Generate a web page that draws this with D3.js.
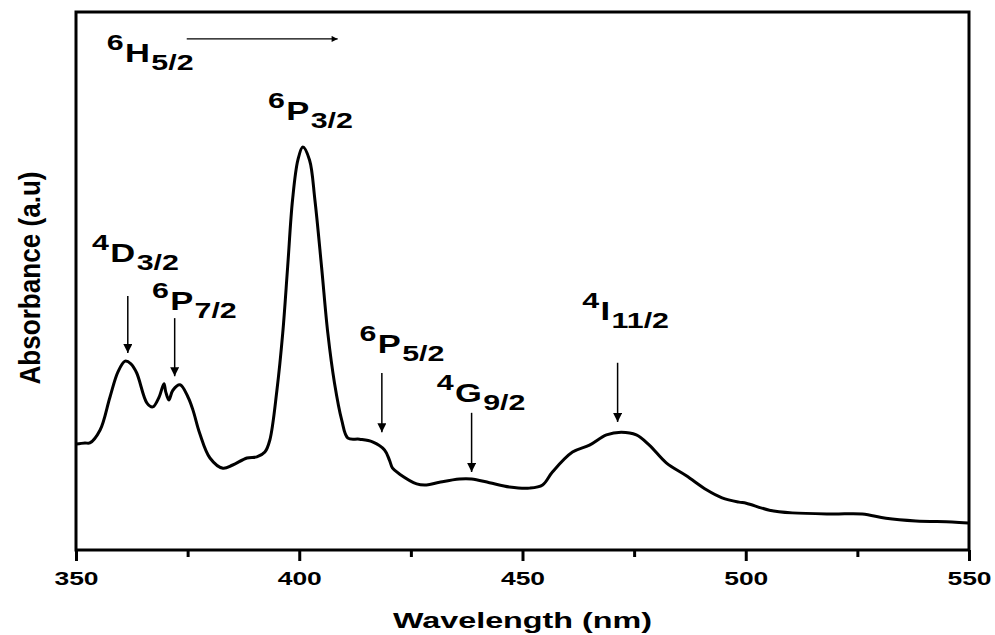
<!DOCTYPE html>
<meta charset="utf-8">
<style>
  body { margin: 0; background: #fff; }
  text { font-family: "Liberation Sans", Arial, sans-serif; font-weight: bold; fill: #000; }
</style>
<script src="https://cdn.jsdelivr.net/npm/d3@7"></script>
<svg id="chart" width="995" height="635"></svg>
<script>
// absorption spectrum (nm, arbitrary units)
const wavelength = [350.0, 352.0, 353.1, 355.4, 357.6, 359.4, 361.0, 362.3, 363.6, 365.9,
  367.2, 368.6, 369.7, 370.1, 370.8, 371.7, 373.3, 375.1, 376.2, 377.7,
  380.0, 382.9, 385.1, 388.3, 390.5, 392.3, 393.4, 395.0, 396.3, 397.4,
  398.5, 399.7, 400.8, 402.3, 403.5, 405.0, 406.4, 407.9, 409.5, 410.9,
  413.5, 416.4, 419.1, 420.2, 420.9, 422.5, 426.3, 428.5, 431.4, 435.9,
  438.6, 442.6, 447.1, 451.6, 454.5, 456.7, 461.2, 465.0, 468.8, 472.1,
  475.5, 478.4, 482.2, 486.7, 491.2, 494.7, 498.5, 500.1, 505.3, 510.4,
  519.4, 526.1, 531.4, 538.1, 546.2, 549.8];
const absorbance = [0.197, 0.199, 0.199, 0.223, 0.284, 0.331, 0.351, 0.346, 0.329, 0.273,
  0.266, 0.284, 0.309, 0.294, 0.279, 0.297, 0.307, 0.284, 0.260, 0.217,
  0.171, 0.152, 0.158, 0.171, 0.173, 0.182, 0.204, 0.297, 0.403, 0.526,
  0.651, 0.725, 0.749, 0.725, 0.651, 0.526, 0.403, 0.310, 0.242, 0.208,
  0.206, 0.201, 0.186, 0.167, 0.152, 0.141, 0.123, 0.121, 0.126, 0.132,
  0.132, 0.125, 0.117, 0.115, 0.121, 0.145, 0.182, 0.195, 0.214, 0.219,
  0.214, 0.195, 0.162, 0.138, 0.112, 0.097, 0.089, 0.087, 0.074, 0.069,
  0.067, 0.067, 0.059, 0.054, 0.052, 0.050];

const majorTicks = [350, 400, 450, 500, 550];
const minorTicks = [375, 425, 475, 525];

// transition labels: superscript, term letter, subscript, anchor (nm, a.u)
const labelSup = ["6", "4", "6", "6", "6", "4", "4"];
const labelMain = ["H", "D", "P", "P", "P", "G", "I"];
const labelSub = ["5/2", "3/2", "7/2", "3/2", "5/2", "9/2", "11/2"];
const labelNm = [356.9, 353.6, 367.0, 393.0, 413.5, 430.8, 463.4];
const labelAu = [0.907, 0.535, 0.446, 0.799, 0.366, 0.275, 0.428];

// vertical arrows pointing at the bands
const arrowNm = [361.6, 372.1, 418.5, 438.6, 471.3];
const arrowFrom = [0.472, 0.431, 0.329, 0.255, 0.348];
const arrowTo = [0.366, 0.323, 0.219, 0.145, 0.238];

// horizontal arrow after 6H5/2
const groundArrowNm = [374.8, 408.6];
const groundArrowAu = 0.950;

const svg = d3.select("#chart");
const mLeft = 76, mRight = 969, mTop = 12, mBottom = 550;
const stretch = 1.47;

const x = d3.scaleLinear().domain([350, 550]).range([mLeft, mRight]);
const y = d3.scaleLinear().domain([0, 1]).range([mBottom, mTop]);

svg.append("rect").attr("width", 995).attr("height", 635).attr("fill", "#fff");

const defs = svg.append("defs");
defs.append("marker")
  .attr("id", "head")
  .attr("viewBox", "0 0 10 10")
  .attr("refX", 10).attr("refY", 5)
  .attr("markerWidth", 13).attr("markerHeight", 9)
  .attr("markerUnits", "userSpaceOnUse")
  .attr("orient", "auto")
  .append("path").attr("d", "M0,0 L10,5 L0,10 Z").attr("fill", "#000");

defs.append("marker")
  .attr("id", "headH")
  .attr("viewBox", "0 0 10 10")
  .attr("refX", 10).attr("refY", 5)
  .attr("markerWidth", 16).attr("markerHeight", 6)
  .attr("markerUnits", "userSpaceOnUse")
  .attr("orient", "auto")
  .append("path").attr("d", "M0,0 L10,5 L0,10 Z").attr("fill", "#000");

// bottom axis, major and minor ticks
const xAxis = svg.append("g")
  .attr("transform", `translate(0,${mBottom})`)
  .call(d3.axisBottom(x).tickValues(majorTicks).tickSize(11).tickPadding(11).tickFormat(d3.format("d")));
xAxis.select(".domain").remove();
xAxis.selectAll("line").attr("stroke-width", 3);
xAxis.selectAll("text")
  .style("font-size", "18px")
  .attr("fill", "#000")
  .attr("transform", `scale(${stretch},1)`);

const xMinor = svg.append("g")
  .attr("transform", `translate(0,${mBottom})`)
  .call(d3.axisBottom(x).tickValues(minorTicks).tickSize(7).tickFormat(""));
xMinor.select(".domain").remove();
xMinor.selectAll("line").attr("stroke-width", 3);

// frame
svg.append("rect")
  .attr("x", mLeft).attr("y", mTop)
  .attr("width", mRight - mLeft).attr("height", mBottom - mTop)
  .attr("fill", "none").attr("stroke", "#000").attr("stroke-width", 3);

// spectrum
const line = d3.line()
  .x((d, i) => x(wavelength[i]))
  .y(d => y(d))
  .curve(d3.curveCatmullRom.alpha(0.5));

svg.append("path")
  .datum(absorbance)
  .attr("d", line)
  .attr("fill", "none")
  .attr("stroke", "#000")
  .attr("stroke-width", 3)
  .attr("stroke-linejoin", "round");

// arrows
svg.selectAll(".arrow")
  .data(arrowNm)
  .join("line")
  .attr("class", "arrow")
  .attr("x1", d => x(d)).attr("x2", d => x(d))
  .attr("y1", (d, i) => y(arrowFrom[i]))
  .attr("y2", (d, i) => y(arrowTo[i]))
  .attr("stroke", "#000").attr("stroke-width", 1.5)
  .attr("marker-end", "url(#head)");

svg.append("line")
  .attr("x1", x(groundArrowNm[0])).attr("x2", x(groundArrowNm[1]))
  .attr("y1", y(groundArrowAu)).attr("y2", y(groundArrowAu))
  .attr("stroke", "#000").attr("stroke-width", 1.3)
  .attr("marker-end", "url(#headH)");

// term symbols
labelMain.forEach(function(m, i) {
  const t = svg.append("text")
    .attr("transform", `translate(${x(labelNm[i])},${y(labelAu[i])}) scale(1.38,1)`);
  t.append("tspan").attr("dy", -12).style("font-size", "22px").text(labelSup[i]);
  t.append("tspan").attr("dy", 12).attr("dx", 1).style("font-size", "25px").text(m);
  t.append("tspan").attr("dy", 8).attr("dx", 1).style("font-size", "22px").text(labelSub[i]);
});

// axis titles
svg.append("text")
  .attr("transform", `translate(${(mLeft + mRight) / 2},628) scale(${stretch},1)`)
  .attr("text-anchor", "middle")
  .style("font-size", "22px")
  .text("Wavelength (nm)");

svg.append("text")
  .attr("transform", `translate(30,278) scale(1.3,1) rotate(-90)`)
  .attr("text-anchor", "middle")
  .attr("dy", "0.35em")
  .attr("textLength", 213)
  .attr("lengthAdjust", "spacingAndGlyphs")
  .style("font-size", "22px")
  .text("Absorbance (a.u)");
</script>
